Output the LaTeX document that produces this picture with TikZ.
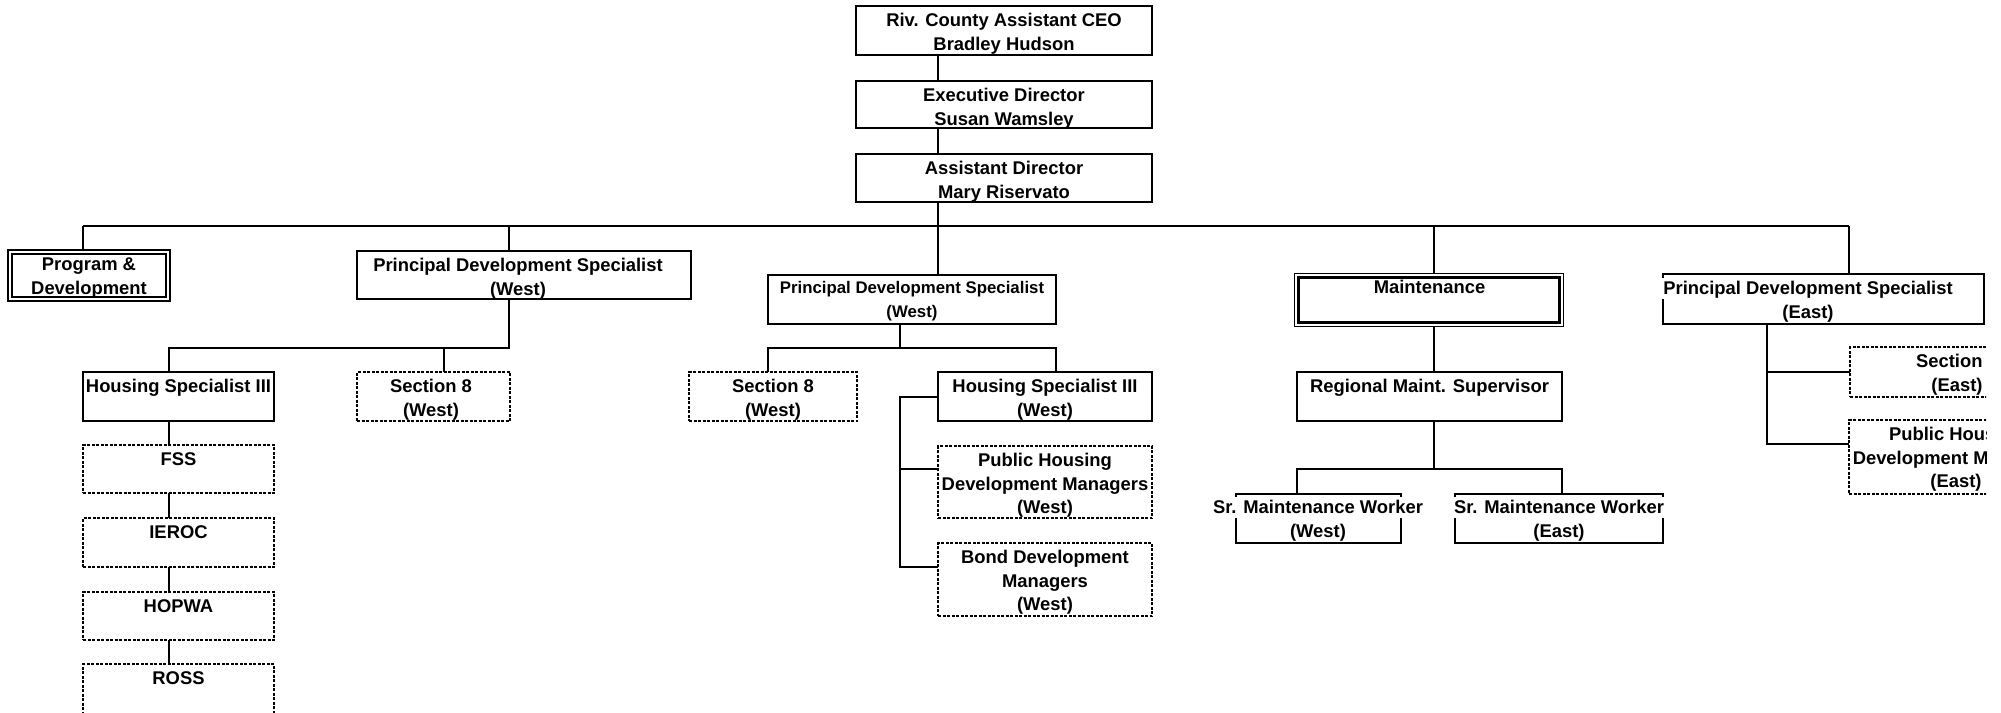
\documentclass[tikz,border=0pt]{standalone}
\usepackage{fontspec}
\setmainfont{Liberation Sans}
\begin{document}
\begin{tikzpicture}[x=1pt,y=-1pt,
  every node/.style={outer sep=0pt},
  conn/.style={line width=2pt},
  sbox/.style={draw, line width=2pt, anchor=north west, inner sep=0pt},
  dbox/.style={draw, line width=1.5pt, dash pattern=on 3pt off 1.5pt, anchor=north west, inner sep=0pt},
  thinbox/.style={draw, line width=1pt, anchor=north west, inner sep=0pt},
  txt/.style={font=\fontsize{18.4}{23.5}\selectfont\bfseries, align=center, inner sep=0pt, anchor=base},
  txts/.style={font=\fontsize{16.8}{24}\selectfont\bfseries, align=center, inner sep=0pt, anchor=base},
  wtxt/.style={txt, fill=white, inner xsep=3pt, text height=17pt, text depth=4pt},
]
\useasboundingbox (0,0) rectangle (2001,712);
\begin{scope}
\clip (0,0) rectangle (1986,712);

% ---------- boxes ----------
\node[sbox, minimum width=296pt, minimum height=49pt] (ceo) at (856,6) {};
\node[sbox, minimum width=296pt, minimum height=47pt] (ed) at (856,81) {};
\node[sbox, minimum width=296pt, minimum height=48pt] (ad) at (856,154) {};

\node[sbox, line width=2.2pt, minimum width=162pt, minimum height=51pt] (prog) at (8,250) {};
\draw[line width=1.2pt] ([xshift=4pt,yshift=-4pt]prog.north west) rectangle ([xshift=-4pt,yshift=4pt]prog.south east);
\node[sbox, minimum width=334pt, minimum height=48pt] (pdsw1) at (357,251) {};
\node[sbox, minimum width=288pt, minimum height=49pt] (pdsw2) at (768,275) {};
\node[thinbox, minimum width=269pt, minimum height=53pt] (maint) at (1294,273) {};
\draw[line width=3pt] ([xshift=4pt,yshift=-4pt]maint.north west) rectangle ([xshift=-4pt,yshift=4pt]maint.south east);
\node[sbox, minimum width=321pt, minimum height=50pt] (pdse) at (1663,274) {};

\node[sbox, minimum width=191pt, minimum height=49pt] (hs3) at (83,372) {};
\node[dbox, minimum width=153pt, minimum height=49pt] (s8w) at (357,372) {};
\node[dbox, minimum width=191pt, minimum height=48pt] (fss) at (83,445) {};
\node[dbox, minimum width=191pt, minimum height=49pt] (ieroc) at (83,518) {};
\node[dbox, minimum width=191pt, minimum height=48pt] (hopwa) at (83,592) {};
\node[dbox, minimum width=191pt, minimum height=52pt] (ross) at (83,664) {};

\node[dbox, minimum width=168pt, minimum height=49pt] (s8w2) at (689,372) {};
\node[sbox, minimum width=214pt, minimum height=49pt] (hs3w) at (938,372) {};
\node[dbox, minimum width=214pt, minimum height=72pt] (phdmw) at (938,446) {};
\node[dbox, minimum width=214pt, minimum height=73pt] (bdmw) at (938,543) {};

\node[sbox, minimum width=265pt, minimum height=49pt] (rms) at (1297,372) {};
\node[sbox, minimum width=165pt, minimum height=49pt] (smw) at (1236,494) {};
\node[sbox, minimum width=208pt, minimum height=49pt] (sme) at (1455,494) {};

\node[dbox, minimum width=214pt, minimum height=50pt] (s8e) at (1850,347) {};
\node[dbox, minimum width=214pt, minimum height=74pt] (phdme) at (1849,420) {};

% ---------- texts (anchor = baseline of last line) ----------
\node[txt] (ceo-t) at (1004,50.1) {Riv. County Assistant CEO\\Bradley Hudson};
\node[txt] (ed-t) at (1004,125.1) {Executive Director\\Susan Wamsley};
\node[txt] (ad-t) at (1004,198.1) {Assistant Director\\Mary Riservato};
\node[txt] (prog-t) at (89,294.1) {Program \&\\Development};
\node[txt] (pdsw1-t) at (518,295.1) {Principal Development Specialist\\(West)};
\node[txts] (pdsw2-t) at (912,317.5) {Principal Development Specialist\\(West)};
\node[txt] (maint-t) at (1429.5,293.6) {Maintenance};
\node[wtxt] (pdse-t1) at (1808,294.6) {Principal Development Specialist};
\node[txt] (pdse-t2) at (1808,318.1) {(East)};
\node[txt] (hs3-t) at (178.5,392.6) {Housing Specialist III};
\node[txt] (s8w-t) at (431,416.1) {Section 8\\(West)};
\node[txt] (fss-t) at (178.5,465.6) {FSS};
\node[txt] (ieroc-t) at (178.5,538.6) {IEROC};
\node[txt] (hopwa-t) at (178.5,612.6) {HOPWA};
\node[txt] (ross-t) at (178.5,684.6) {ROSS};
\node[txt] (s8w2-t) at (773,416.1) {Section 8\\(West)};
\node[txt] (hs3w-t) at (1045,416.1) {Housing Specialist III\\(West)};
\node[txt] (phdmw-t) at (1045,513.6) {Public Housing\\Development Managers\\(West)};
\node[txt] (bdmw-t) at (1045,610.6) {Bond Development\\Managers\\(West)};
\node[txt] (rms-t) at (1429.5,392.6) {Regional Maint. Supervisor};
\node[wtxt] (smw-t1) at (1318,513.6) {Sr. Maintenance Worker};
\node[txt] (smw-t2) at (1318,537.1) {(West)};
\node[wtxt] (sme-t1) at (1559,513.6) {Sr. Maintenance Worker};
\node[txt] (sme-t2) at (1559,537.1) {(East)};
\node[txt] (s8e-t) at (1957,391.1) {Section 8\\(East)};
\node[txt] (phdme-t) at (1956,487.6) {Public Housing\\Development Managers\\(East)};

% ---------- connector points ----------
\coordinate (b1) at (83,226);
\coordinate (b2) at (509,226);
\coordinate (b3) at (938,226);
\coordinate (b4) at (1434,226);
\coordinate (b5) at (1849,226);
\coordinate (w1j) at (509,348);
\coordinate (w1a) at (169,348);
\coordinate (w1b) at (444,348);
\coordinate (w2j) at (900,348);
\coordinate (w2a) at (768,348);
\coordinate (w2b) at (1056,348);
\coordinate (w2k) at (900,397);
\coordinate (w2m) at (900,469);
\coordinate (w2n) at (900,567);
\coordinate (mj) at (1434,469);
\coordinate (ma) at (1297,469);
\coordinate (mb) at (1562,469);
\coordinate (ej) at (1767,444);
\coordinate (ek) at (1767,372);

% ---------- connectors ----------
\draw[conn] (b3 |- ceo.south) -- (b3 |- ed.north);
\draw[conn] (b3 |- ed.south) -- (b3 |- ad.north);
\draw[conn] (b3 |- ad.south) -- (b3 |- pdsw2.north);
\draw[conn] (b1) -- (b5);
\draw[conn] (b1) -- (b1 |- prog.north);
\draw[conn] (b2) -- (b2 |- pdsw1.north);
\draw[conn] (b4) -- (b4 |- maint.north);
\draw[conn] (b5) -- (b5 |- pdse.north);

\draw[conn] (w1j |- pdsw1.south) -- (w1j) -- (w1a) -- (w1a |- hs3.north);
\draw[conn] (w1b) -- (w1b |- s8w.north);
\draw[conn] (w1a |- hs3.south) -- (w1a |- fss.north);
\draw[conn] (w1a |- fss.south) -- (w1a |- ieroc.north);
\draw[conn] (w1a |- ieroc.south) -- (w1a |- hopwa.north);
\draw[conn] (w1a |- hopwa.south) -- (w1a |- ross.north);

\draw[conn] (w2j |- pdsw2.south) -- (w2j);
\draw[conn] (w2a |- s8w2.north) -- (w2a) -- (w2b) -- (w2b |- hs3w.north);
\draw[conn] (hs3w.west |- w2k) -- (w2k) -- (w2n) -- (bdmw.west |- w2n);
\draw[conn] (w2m) -- (phdmw.west |- w2m);

\draw[conn] (mj |- maint.south) -- (mj |- rms.north);
\draw[conn] (mj |- rms.south) -- (mj);
\draw[conn] (ma |- smw.north) -- (ma) -- (mb) -- (mb |- sme.north);

\draw[conn] (ej |- pdse.south) -- (ej) -- (phdme.west |- ej);
\draw[conn] (ek) -- (s8e.west |- ek);
\end{scope}
\end{tikzpicture}
\end{document}
